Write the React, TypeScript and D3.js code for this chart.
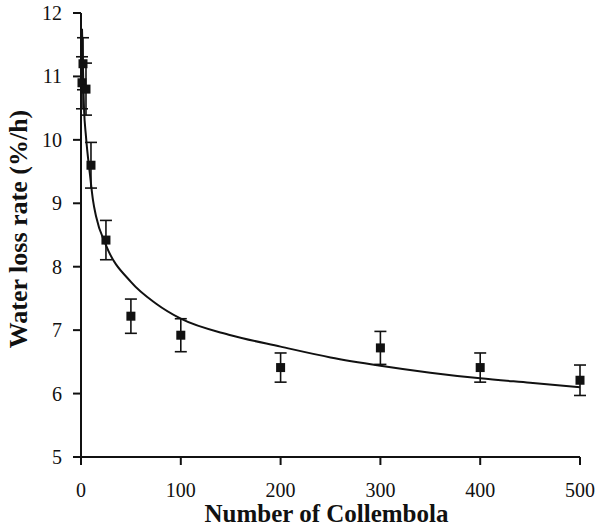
import * as d3 from "d3";

// measured points (mean ± error)
const counts = [1, 2, 5, 10, 25, 50, 100, 200, 300, 400, 500];
const rates = [10.9, 11.2, 10.8, 9.6, 8.42, 7.22, 6.92, 6.41, 6.72, 6.41, 6.21];
const errors = [0.41, 0.41, 0.41, 0.36, 0.31, 0.27, 0.26, 0.23, 0.26, 0.23, 0.24];

// fitted trend line
const fitX = [1, 3, 5, 9, 12, 15, 25, 50, 75, 100, 150, 200, 250, 300, 350, 400, 450, 500];
const fitY = [11.75, 10.5, 10.05, 9.45, 9.05, 8.8, 8.34, 7.76, 7.42, 7.18, 6.92, 6.74, 6.57, 6.44, 6.33, 6.24, 6.17, 6.1];

const xTicks = [0, 100, 200, 300, 400, 500];
const yTicks = [5, 6, 7, 8, 9, 10, 11, 12];

const W = 602;
const H = 530;
const margin = { top: 13, right: 22, bottom: 73, left: 81 };

export default function App() {
  const x = d3.scaleLinear().domain([0, 500]).range([margin.left, W - margin.right]);
  const y = d3.scaleLinear().domain([5, 12]).range([H - margin.bottom, margin.top]);

  const fit = fitX.map((v, i) => [v, fitY[i]] as [number, number]);
  const line = d3
    .line<[number, number]>()
    .x((d) => x(d[0]))
    .y((d) => y(d[1]))
    .curve(d3.curveMonotoneX);

  const pts = counts.map((c, i) => ({ c, v: rates[i], e: errors[i] }));
  const font = "'Liberation Serif', 'Times New Roman', serif";
  const x0 = x(0);
  const y0 = y(5);

  return (
    <svg
      width={W}
      height={H}
      style={{ position: "absolute", left: 0, top: 0, background: "#fff" }}
      fontFamily={font}
    >
      {/* axes */}
      <line x1={x0} x2={x(500)} y1={y0} y2={y0} stroke="#111" strokeWidth={2} />
      <line x1={x0} x2={x0} y1={y0} y2={y(12)} stroke="#111" strokeWidth={2} />
      {yTicks.map((t) => (
        <g key={"y" + t}>
          <line x1={x0 - 8} x2={x0} y1={y(t)} y2={y(t)} stroke="#111" strokeWidth={2} />
          <text x={x0 - 19} y={y(t)} dy="0.35em" textAnchor="end" fontSize={20} fill="#111">
            {t}
          </text>
        </g>
      ))}
      {xTicks.map((t) => (
        <g key={"x" + t}>
          <line x1={x(t)} x2={x(t)} y1={y0} y2={y0 + 8} stroke="#111" strokeWidth={2} />
          <text x={x(t)} y={y0 + 40} textAnchor="middle" fontSize={20} fill="#111">
            {t}
          </text>
        </g>
      ))}

      {/* fitted curve */}
      <path d={line(fit) || ""} fill="none" stroke="#111" strokeWidth={2} />

      {/* error bars + markers */}
      {pts.map((p, i) => (
        <g key={"p" + i}>
          <line x1={x(p.c)} x2={x(p.c)} y1={y(p.v - p.e)} y2={y(p.v + p.e)} stroke="#111" strokeWidth={1.6} />
          <line x1={x(p.c) - 6} x2={x(p.c) + 6} y1={y(p.v + p.e)} y2={y(p.v + p.e)} stroke="#111" strokeWidth={1.6} />
          <line x1={x(p.c) - 6} x2={x(p.c) + 6} y1={y(p.v - p.e)} y2={y(p.v - p.e)} stroke="#111" strokeWidth={1.6} />
          <rect x={x(p.c) - 4.5} y={y(p.v) - 4.5} width={9} height={9} fill="#111" />
        </g>
      ))}

      {/* axis titles */}
      <text
        x={(x0 + x(500)) / 2 - 4}
        y={H - 8}
        textAnchor="middle"
        fontSize={25}
        fontWeight="bold"
        fill="#111"
      >
        Number of Collembola
      </text>
      <text
        transform={`translate(27,${(y(12) + y0) / 2 - 6}) rotate(-90)`}
        textAnchor="middle"
        fontSize={26}
        fontWeight="bold"
        fill="#111"
      >
        Water loss rate (%/h)
      </text>
    </svg>
  );
}
